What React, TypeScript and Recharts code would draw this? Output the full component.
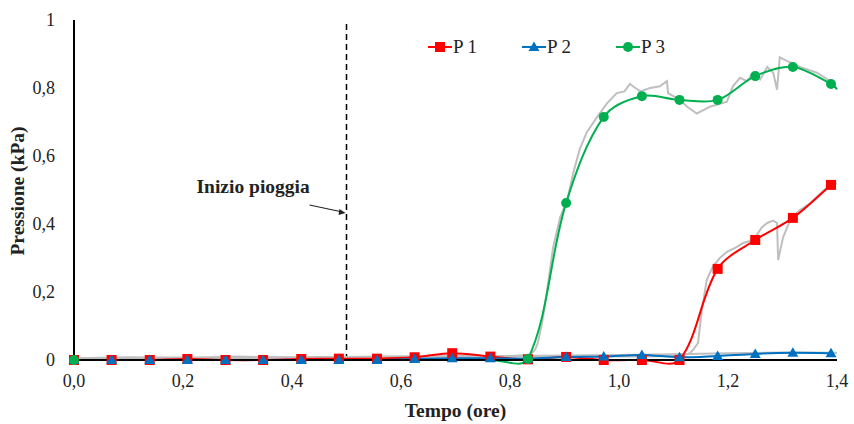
import { LineChart, Line, XAxis, YAxis, ReferenceLine, Legend } from "recharts";

const FONT = "'Liberation Serif', 'Times New Roman', serif";
const RED = "#ff0000";
const BLUE = "#0070c0";
const GREEN = "#00b050";
const GREY = "#bfbfbf";

// sampled readings (hours)
const times = [0, 0.069, 0.139, 0.208, 0.278, 0.347, 0.417, 0.486, 0.556, 0.625, 0.694, 0.764, 0.833, 0.903, 0.972, 1.042, 1.111, 1.181, 1.25, 1.319, 1.389];
const p1 = [0, 0, 0, 0.003, 0, 0, 0.003, 0.004, 0.004, 0.008, 0.02, 0.01, 0.002, 0.009, 0, 0, 0, 0.268, 0.353, 0.418, 0.515];
const p2 = [0, 0, 0, 0, 0, 0, 0, 0, 0, 0.003, 0.005, 0.005, 0.004, 0.009, 0.01, 0.015, 0.008, 0.012, 0.018, 0.021, 0.02];
const p3 = [0, 0, 0, 0, 0, 0, 0, 0, 0, 0, 0, 0, 0.003, 0.462, 0.715, 0.776, 0.765, 0.765, 0.835, 0.862, 0.812];
// P3 markers are only shown at the start and from the rise onwards
const p3Shown = [true, false, false, false, false, false, false, false, false, false, false, false, true, true, true, true, true, true, true, true, true];
const p3EndTime = 1.4;
const p3EndValue = 0.797;

// raw logger traces (grey)
const raw1Times = [0, 0.1, 0.2, 0.3, 0.4, 0.5, 0.6, 0.7, 0.8, 0.9, 1.0, 1.05, 1.1, 1.12, 1.13, 1.136, 1.145, 1.152, 1.161, 1.172, 1.185, 1.198, 1.213, 1.228, 1.24, 1.253, 1.262, 1.272, 1.283, 1.29, 1.292, 1.301, 1.314, 1.332, 1.35, 1.363, 1.387, 1.4];
const raw1 = [0.004, 0.006, 0.005, 0.008, 0.006, 0.009, 0.007, 0.012, 0.01, 0.009, 0.011, 0.01, 0.012, 0.015, 0.02, 0.03, 0.05, 0.147, 0.235, 0.274, 0.3, 0.318, 0.33, 0.344, 0.35, 0.368, 0.39, 0.403, 0.41, 0.403, 0.294, 0.36, 0.412, 0.441, 0.46, 0.48, 0.515, 0.52];
const raw2Times = [0, 0.1, 0.2, 0.3, 0.4, 0.5, 0.6, 0.7, 0.8, 0.9, 1.0, 1.1, 1.2, 1.3, 1.4];
const raw2 = [0.004, 0.006, 0.007, 0.005, 0.008, 0.009, 0.01, 0.011, 0.012, 0.013, 0.015, 0.017, 0.02, 0.022, 0.021];
const raw3Times = [0, 0.1, 0.2, 0.3, 0.4, 0.5, 0.6, 0.7, 0.8, 0.837, 0.846, 0.851, 0.859, 0.868, 0.879, 0.892, 0.905, 0.916, 0.928, 0.941, 0.96, 0.978, 0.996, 1.01, 1.02, 1.03, 1.039, 1.057, 1.075, 1.088, 1.09, 1.112, 1.125, 1.143, 1.167, 1.198, 1.209, 1.222, 1.235, 1.246, 1.259, 1.272, 1.283, 1.29, 1.295, 1.308, 1.332, 1.363, 1.393, 1.4];
const raw3 = [0.005, 0.008, 0.006, 0.01, 0.007, 0.009, 0.01, 0.008, 0.012, 0.015, 0.03, 0.05, 0.11, 0.205, 0.33, 0.42, 0.47, 0.55, 0.62, 0.67, 0.715, 0.755, 0.785, 0.79, 0.812, 0.8, 0.79, 0.8, 0.805, 0.82, 0.785, 0.765, 0.745, 0.725, 0.745, 0.76, 0.805, 0.83, 0.82, 0.845, 0.825, 0.862, 0.845, 0.795, 0.89, 0.88, 0.862, 0.845, 0.815, 0.795];

const xTicks = [0, 0.2, 0.4, 0.6, 0.8, 1.0, 1.2, 1.4];
const yTicks = [0, 0.2, 0.4, 0.6, 0.8, 1];
const rainStart = 0.5;
const legendNames = ["P 1", "P 2", "P 3"];

const pair = (ts: number[], vs: number[]) => ts.map((t, i) => ({ t, v: vs[i] }));
const p1Data = pair(times, p1);
const p2Data = pair(times, p2);
const p3Data = [...pair(times, p3), { t: p3EndTime, v: p3EndValue }];

// Excel-like smoothed line: bezier with tangents scaled by segment lengths
function smooth(context: any) {
  let pts: number[][] = [];
  const dist = (a: number[], b: number[]) => Math.hypot(b[0] - a[0], b[1] - a[1]);
  return {
    areaStart() {},
    areaEnd() {},
    lineStart() {
      pts = [];
    },
    point(x: number, y: number) {
      pts.push([+x, +y]);
    },
    lineEnd() {
      if (!pts.length) return;
      context.moveTo(pts[0][0], pts[0][1]);
      for (let i = 0; i < pts.length - 1; i++) {
        const a = pts[i - 1] || pts[i];
        const b = pts[i];
        const c = pts[i + 1];
        const d = pts[i + 2] || c;
        const bc = dist(b, c);
        const k1 = bc / (dist(a, b) + bc || 1) / 3;
        const k2 = bc / (bc + dist(c, d) || 1) / 3;
        context.bezierCurveTo(
          b[0] + (c[0] - a[0]) * k1,
          b[1] + (c[1] - a[1]) * k1,
          c[0] - (d[0] - b[0]) * k2,
          c[1] - (d[1] - b[1]) * k2,
          c[0],
          c[1]
        );
      }
    },
  };
}

function Marker({ kind, cx, cy }: { kind: number; cx: number; cy: number }) {
  if (kind === 0) return <rect x={cx - 5} y={cy - 5} width={10} height={10} fill={RED} />;
  if (kind === 1)
    return <path d={`M${cx},${cy - 5.5}L${cx + 5.5},${cy + 4}L${cx - 5.5},${cy + 4}Z`} fill={BLUE} />;
  return <circle cx={cx} cy={cy} r={5} fill={GREEN} />;
}

const dotFor = (kind: number, shown?: boolean[]) => (p: any) => {
  const hide = p.cx == null || p.cy == null || p.index >= times.length || (shown && !shown[p.index]);
  if (hide) return <g key={`e${kind}-${p.index}`} />;
  return <Marker key={`m${kind}-${p.index}`} kind={kind} cx={p.cx} cy={p.cy} />;
};

function LegendBox() {
  const colors = [RED, BLUE, GREEN];
  return (
    <div style={{ display: "flex", fontFamily: FONT, fontSize: 19, color: "#222", lineHeight: "22px" }}>
      {legendNames.map((name, i) => (
        <div key={name} style={{ display: "flex", alignItems: "center", width: 94 }}>
          <svg width={24} height={14}>
            <line x1={0} y1={7} x2={24} y2={7} stroke={colors[i]} strokeWidth={2} />
            <Marker kind={i} cx={12} cy={7} />
          </svg>
          <span style={{ marginLeft: 1 }}>{name}</span>
        </div>
      ))}
    </div>
  );
}

function YTitle() {
  return (
    <text
      x={24}
      y={191}
      transform="rotate(-90, 24, 191)"
      textAnchor="middle"
      fontFamily={FONT}
      fontWeight="bold"
      fontSize={19.5}
      fill="#222"
    >
      Pressione (kPa)
    </text>
  );
}

function RainLabel({ viewBox }: any) {
  const x = viewBox?.x ?? 0;
  const y = viewBox?.y ?? 0;
  return (
    <g>
      <text x={x - 150} y={y + 173} fontFamily={FONT} fontWeight="bold" fontSize={19.5} fill="#222">
        Inizio pioggia
      </text>
      <line x1={x - 37} y1={y + 185} x2={x - 4} y2={y + 192} stroke="#222" strokeWidth={1.2} />
      <path d={`M${x - 1},${y + 193}L${x - 7},${y + 189}L${x - 8},${y + 195}Z`} fill="#222" />
    </g>
  );
}

const fmtX = (v: number) => v.toFixed(1).replace(".", ",");
const fmtY = (v: number) => String(v).replace(".", ",");

export default function App() {
  return (
    <div style={{ position: "absolute", left: 0, top: 0, background: "#fff" }}>
      <LineChart width={854} height={424} margin={{ top: 20, right: 17, bottom: 0, left: 0 }}>
        <XAxis
          type="number"
          dataKey="t"
          domain={[0, 1.4]}
          ticks={xTicks}
          tickFormatter={fmtX}
          height={64}
          tickSize={0}
          tickMargin={14}
          tickLine={false}
          axisLine={{ stroke: "#000", strokeWidth: 2 }}
          tick={{ fill: "#222", fontSize: 18, fontFamily: FONT }}
          label={{
            value: "Tempo (ore)",
            position: "insideBottom",
            offset: 7,
            style: { fontFamily: FONT, fontWeight: "bold", fontSize: 19.5, fill: "#222" },
          }}
        />
        <YAxis
          type="number"
          domain={[0, 1]}
          ticks={yTicks}
          tickFormatter={fmtY}
          width={74}
          tickSize={0}
          tickMargin={19}
          tickLine={false}
          axisLine={{ stroke: "#000", strokeWidth: 2 }}
          tick={{ fill: "#222", fontSize: 18, fontFamily: FONT }}
          label={<YTitle />}
        />
        <ReferenceLine
          x={rainStart}
          stroke="#000"
          strokeWidth={1.5}
          strokeDasharray="6 4"
          label={<RainLabel />}
        />
        <Legend
          layout="vertical"
          align="center"
          verticalAlign="middle"
          wrapperStyle={{ top: 36, left: 428, width: 290, height: 22 }}
          content={<LegendBox />}
        />
        <Line data={pair(raw2Times, raw2)} dataKey="v" type="linear" stroke={GREY} strokeWidth={2} dot={false} legendType="none" isAnimationActive={false} />
        <Line data={pair(raw1Times, raw1)} dataKey="v" type="linear" stroke={GREY} strokeWidth={2} dot={false} legendType="none" isAnimationActive={false} />
        <Line data={pair(raw3Times, raw3)} dataKey="v" type="linear" stroke={GREY} strokeWidth={2} dot={false} legendType="none" isAnimationActive={false} />
        <Line data={p1Data} dataKey="v" name="P 1" type={smooth as any} stroke={RED} strokeWidth={2} dot={dotFor(0)} activeDot={false} isAnimationActive={false} />
        <Line data={p2Data} dataKey="v" name="P 2" type={smooth as any} stroke={BLUE} strokeWidth={2} dot={dotFor(1)} activeDot={false} isAnimationActive={false} />
        <Line data={p3Data} dataKey="v" name="P 3" type={smooth as any} stroke={GREEN} strokeWidth={2} dot={dotFor(2, p3Shown)} activeDot={false} isAnimationActive={false} />
      </LineChart>
    </div>
  );
}
